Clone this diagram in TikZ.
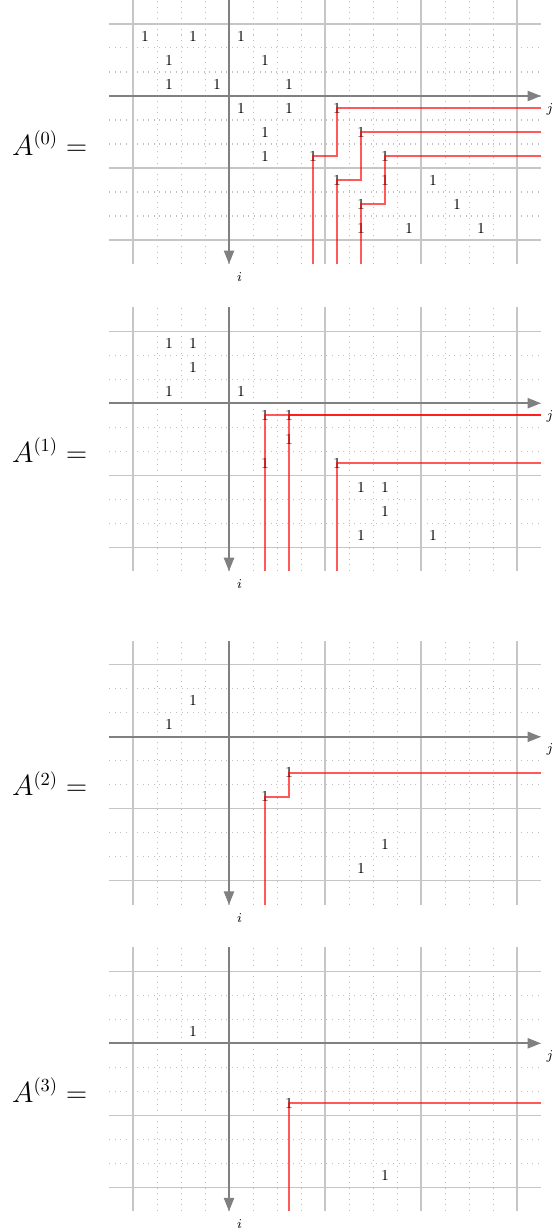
\documentclass[tikz,border=0pt]{standalone}
\usepackage{tikz}
\usetikzlibrary{arrows.meta}
\tikzset{
	gridfine/.style={
			draw=gray!50,
			dash pattern=on 0.6pt off 2.7pt,
			line width=0.6pt,
			step=1
		},
	gridblock/.style={
			draw=gray!45,
			line width=0.8pt,
			xstep=4,
			ystep=3
		},
	axisline/.style={
			draw=gray,
			line width=1.2pt,
			-{Triangle[length=8pt,width=6pt]}
		},
	hook/.style={
			draw=red,
			draw opacity=0.65,
			line width=1pt
		},
	entry/.style={
			font=\small,
			inner sep=0pt
		}
}
\tikzset{
	axlbl/.style={font=\footnotesize, inner sep=0pt},
	matlbl/.style={font=\fontsize{16}{19}\selectfont, inner sep=0pt, anchor=base east}
}
\begin{document}
\begin{tikzpicture}[x=5mm, y=5mm]
	\useasboundingbox (-9.542,-47.333) rectangle (13.5,4);

	\begin{scope}
		\draw[gridfine] (-4.99,-6.99) grid (12.99,3.99);
		\draw[gridblock] (-5,-7) grid (13,4);
		\draw[axisline] (-5,0) -- (13,0);
		\draw[axisline] (0,4) -- (0,-7);
		\coordinate (e0) at (13,0);
		\coordinate (s0) at (0,-7);
		\node[axlbl] (j0) at (13.37,-0.54) {$j$};
		\node[axlbl] (i0) at (0.44,-7.54) {$i$};
		\node[matlbl] (A0) at (-5.9,-2.46) {$A^{(0)} =$};

		\node[entry] (a1) at (-3.5,2.5) {1};
		\node[entry] (a2) at (-1.5,2.5) {1};
		\node[entry] (a3) at (0.5,2.5) {1};
		\node[entry] (a4) at (-2.5,1.5) {1};
		\node[entry] (a5) at (1.5,1.5) {1};
		\node[entry] (a6) at (-2.5,0.5) {1};
		\node[entry] (a7) at (-0.5,0.5) {1};
		\node[entry] (a8) at (2.5,0.5) {1};
		\node[entry] (a9) at (0.5,-0.5) {1};
		\node[entry] (a10) at (2.5,-0.5) {1};
		\node[entry] (a11) at (4.5,-0.5) {1};
		\node[entry] (a12) at (1.5,-1.5) {1};
		\node[entry] (a13) at (5.5,-1.5) {1};
		\node[entry] (a14) at (1.5,-2.5) {1};
		\node[entry] (a15) at (3.5,-2.5) {1};
		\node[entry] (a16) at (6.5,-2.5) {1};
		\node[entry] (a17) at (4.5,-3.5) {1};
		\node[entry] (a18) at (6.5,-3.5) {1};
		\node[entry] (a19) at (8.5,-3.5) {1};
		\node[entry] (a20) at (5.5,-4.5) {1};
		\node[entry] (a21) at (9.5,-4.5) {1};
		\node[entry] (a22) at (5.5,-5.5) {1};
		\node[entry] (a23) at (7.5,-5.5) {1};
		\node[entry] (a24) at (10.5,-5.5) {1};

		\draw[hook] (a11.center -| e0) -- (a11.center) |- (a15.center) -- (a15.center |- s0);
		\draw[hook] (a13.center -| e0) -- (a13.center) |- (a17.center) -- (a17.center |- s0);
		\draw[hook] (a16.center -| e0) -- (a16.center) |- (a20.center) -- (a20.center |- s0);
	\end{scope}

	\begin{scope}[yshift=-12.8*5mm]
		\draw[gridfine] (-4.99,-6.99) grid (12.99,3.99);
		\draw[gridblock] (-5,-7) grid (13,4);
		\draw[axisline] (-5,0) -- (13,0);
		\draw[axisline] (0,4) -- (0,-7);
		\coordinate (e1) at (13,0);
		\coordinate (s1) at (0,-7);
		\node[axlbl] (j1) at (13.37,-0.54) {$j$};
		\node[axlbl] (i1) at (0.44,-7.54) {$i$};
		\node[matlbl] (A1) at (-5.9,-2.46) {$A^{(1)} =$};

		\node[entry] (b1) at (-2.5,2.5) {1};
		\node[entry] (b2) at (-1.5,2.5) {1};
		\node[entry] (b3) at (-1.5,1.5) {1};
		\node[entry] (b4) at (-2.5,0.5) {1};
		\node[entry] (b5) at (0.5,0.5) {1};
		\node[entry] (b6) at (1.5,-0.5) {1};
		\node[entry] (b7) at (2.5,-0.5) {1};
		\node[entry] (b8) at (2.5,-1.5) {1};
		\node[entry] (b9) at (1.5,-2.5) {1};
		\node[entry] (b10) at (4.5,-2.5) {1};
		\node[entry] (b11) at (5.5,-3.5) {1};
		\node[entry] (b12) at (6.5,-3.5) {1};
		\node[entry] (b13) at (6.5,-4.5) {1};
		\node[entry] (b14) at (5.5,-5.5) {1};
		\node[entry] (b15) at (8.5,-5.5) {1};

		\draw[hook] (b6.center -| e1) -- (b6.center) -- (b6.center |- s1);
		\draw[hook] (b7.center -| e1) -- (b7.center) -- (b7.center |- s1);
		\draw[hook] (b10.center -| e1) -- (b10.center) -- (b10.center |- s1);
	\end{scope}

	\begin{scope}[yshift=-26.7*5mm]
		\draw[gridfine] (-4.99,-6.99) grid (12.99,3.99);
		\draw[gridblock] (-5,-7) grid (13,4);
		\draw[axisline] (-5,0) -- (13,0);
		\draw[axisline] (0,4) -- (0,-7);
		\coordinate (e2) at (13,0);
		\coordinate (s2) at (0,-7);
		\node[axlbl] (j2) at (13.37,-0.54) {$j$};
		\node[axlbl] (i2) at (0.44,-7.54) {$i$};
		\node[matlbl] (A2) at (-5.9,-2.46) {$A^{(2)} =$};

		\node[entry] (c1) at (-1.5,1.5) {1};
		\node[entry] (c2) at (-2.5,0.5) {1};
		\node[entry] (c3) at (2.5,-1.5) {1};
		\node[entry] (c4) at (1.5,-2.5) {1};
		\node[entry] (c5) at (6.5,-4.5) {1};
		\node[entry] (c6) at (5.5,-5.5) {1};

		\draw[hook] (c3.center -| e2) -- (c3.center) |- (c4.center) -- (c4.center |- s2);
	\end{scope}

	\begin{scope}[yshift=-39.47*5mm]
		\draw[gridfine] (-4.99,-6.99) grid (12.99,3.99);
		\draw[gridblock] (-5,-7) grid (13,4);
		\draw[axisline] (-5,0) -- (13,0);
		\draw[axisline] (0,4) -- (0,-7);
		\coordinate (e3) at (13,0);
		\coordinate (s3) at (0,-7);
		\node[axlbl] (j3) at (13.37,-0.54) {$j$};
		\node[axlbl] (i3) at (0.44,-7.54) {$i$};
		\node[matlbl] (A3) at (-5.9,-2.46) {$A^{(3)} =$};

		\node[entry] (d1) at (-1.5,0.5) {1};
		\node[entry] (d2) at (2.5,-2.5) {1};
		\node[entry] (d3) at (6.5,-5.5) {1};

		\draw[hook] (d2.center -| e3) -- (d2.center) -- (d2.center |- s3);
	\end{scope}
\end{tikzpicture}
\end{document}
